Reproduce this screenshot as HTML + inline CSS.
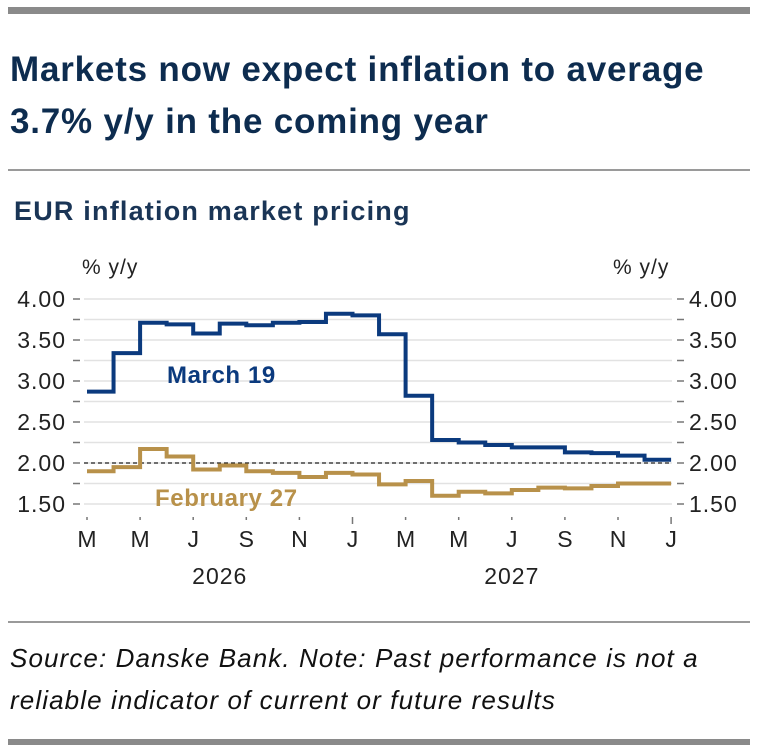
<!DOCTYPE html>
<html><head><meta charset="utf-8"><style>
body{margin:0;background:#fff;width:761px;height:754px;overflow:hidden;font-family:"Liberation Sans",sans-serif}
.bar{position:absolute;left:8px;width:742px;background:#8a8a8a}
.rule{position:absolute;left:8px;width:742px;height:2px;background:#9a9a9a}
</style></head><body>
<div class="bar" style="top:7px;height:7px"></div>
<div style="position:absolute;left:10px;top:44px;font-size:35px;letter-spacing:0.8px;font-weight:bold;color:#0d2c4f;line-height:52px">Markets now expect inflation to average<br>3.7% y/y in the coming year</div>
<div class="rule" style="top:169px"></div>
<div style="position:absolute;left:14px;top:196px;font-size:27px;letter-spacing:1.2px;font-weight:bold;color:#1a3556">EUR inflation market pricing</div>
<svg id="c" width="761" height="600" style="position:absolute;left:0;top:0" font-family="Liberation Sans, sans-serif"></svg>
<div class="rule" style="top:621px"></div>
<div style="position:absolute;left:10px;top:637px;font-size:26px;letter-spacing:1.1px;font-style:italic;color:#111;line-height:42px">Source: Danske Bank. Note: Past performance is not a<br>reliable indicator of current or future results</div>
<div class="bar" style="top:739px;height:6px"></div>
<script>
const months=["M","M","J","S","N","J","M","M","J","S","N","J"];
const years=["2026","2027"];
const yTicks=[1.5,2.0,2.5,3.0,3.5,4.0];
const march19=[2.87,3.34,3.71,3.69,3.58,3.70,3.68,3.71,3.72,3.82,3.80,3.57,2.82,2.28,2.25,2.22,2.19,2.19,2.13,2.12,2.09,2.04];
const feb27=[1.90,1.95,2.17,2.08,1.92,1.97,1.90,1.88,1.83,1.88,1.86,1.74,1.78,1.60,1.65,1.63,1.67,1.70,1.69,1.72,1.75,1.75];
const svg=document.getElementById('c');const NS='http://www.w3.org/2000/svg';
const X=i=>87+i*26.55, Y=v=>504-(v-1.5)*82;
function mk(t,a,txt){const e=document.createElementNS(NS,t);for(const k in a)e.setAttribute(k,a[k]);if(txt!=null)e.textContent=txt;svg.appendChild(e);return e;}
for(let v=1.5;v<=4.001;v+=0.25){
 const g=mk('line',{x1:84,x2:672,y1:Y(v),y2:Y(v),stroke:'#e2e2e2','stroke-width':1.5});
 
 mk('line',{x1:73,x2:80,y1:Y(v),y2:Y(v),stroke:'#777','stroke-width':1.5});
 mk('line',{x1:677,x2:684,y1:Y(v),y2:Y(v),stroke:'#777','stroke-width':1.5});
}
const ref=mk('line',{x1:84,x2:672,y1:Y(2),y2:Y(2),stroke:'#222','stroke-width':1.2,'stroke-dasharray':'4,3'});

yTicks.forEach(v=>{
 const l=mk('text',{x:66,y:Y(v)+8,'font-size':23,'letter-spacing':1,'text-anchor':'end',fill:'#222'},v.toFixed(2));
 
 const r=mk('text',{x:689,y:Y(v)+8,'font-size':23,'letter-spacing':1,fill:'#222'},v.toFixed(2));
 
});
let a=mk('text',{x:82,y:274,'font-size':21,'letter-spacing':1,fill:'#222'},'% y/y');
a=mk('text',{x:613,y:274,'font-size':21,'letter-spacing':1,fill:'#222'},'% y/y');
months.forEach((m,k)=>{const i=k*2;
 mk('line',{x1:X(i),x2:X(i),y1:517,y2:(k==5||k==11)?524:520,stroke:'#777','stroke-width':1.5});
 const t=mk('text',{x:X(i),y:547,'font-size':23,'text-anchor':'middle',fill:'#222'},m);
 
});
years.forEach((y,k)=>{const t=mk('text',{x:X(k*11+5),y:584,'font-size':23,'letter-spacing':1,'text-anchor':'middle',fill:'#222'},y);
 });
function step(d){let p='';d.forEach((v,i)=>{p+=(i?'L':'M')+X(i)+','+Y(v)+'L'+X(i+1)+','+Y(v);});return p;}
let s=mk('path',{d:step(feb27),fill:'none',stroke:'#b8914a','stroke-width':4});

s=mk('path',{d:step(march19),fill:'none',stroke:'#0b3a7e','stroke-width':4});

a=mk('text',{x:167,y:383,'font-size':24,'letter-spacing':0.6,'font-weight':'bold',fill:'#0b3a7e'},'March 19');
a=mk('text',{x:155,y:506,'font-size':24,'letter-spacing':0.6,'font-weight':'bold',fill:'#b8914a'},'February 27');
</script>
</body></html>
